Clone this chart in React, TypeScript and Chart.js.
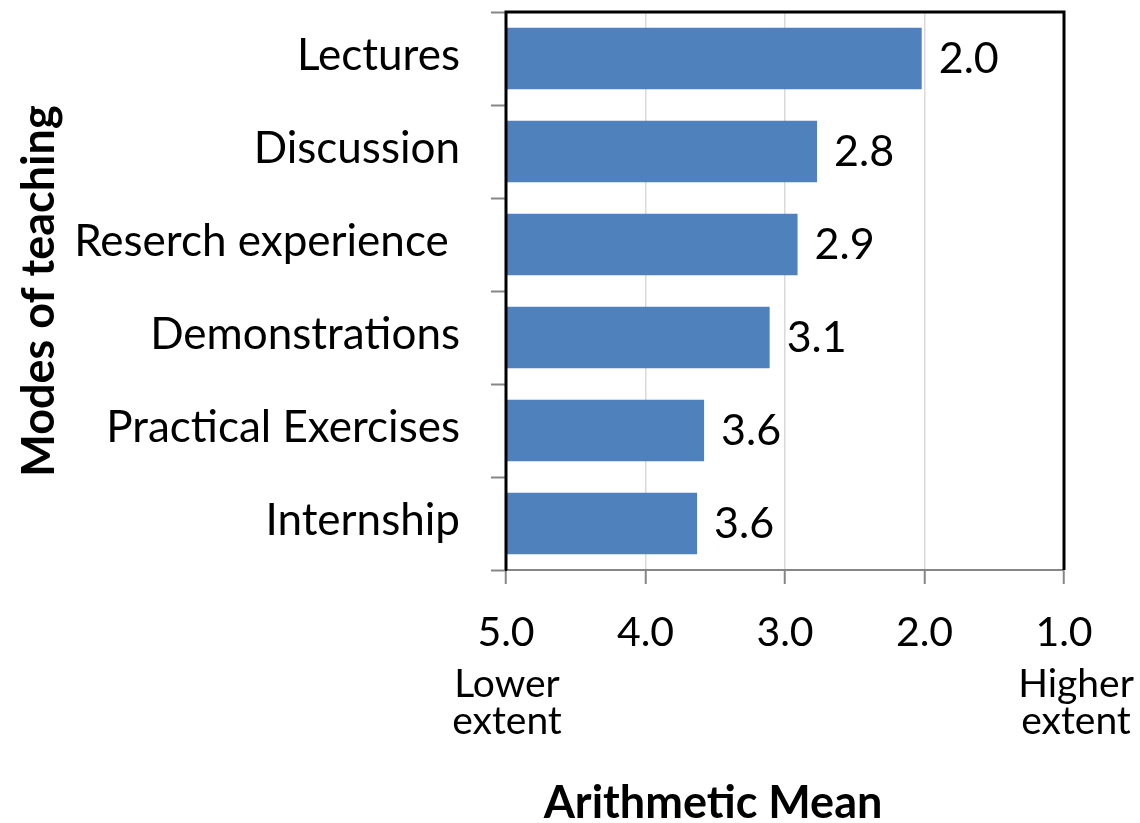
import React, { useEffect, useRef } from 'react';
import { Chart, registerables } from 'chart.js';

Chart.register(...registerables);

const categories = ['Lectures', 'Discussion', 'Reserch experience ', 'Demonstrations', 'Practical Exercises', 'Internship'];
const means = [2.02, 2.77, 2.91, 3.11, 3.58, 3.63];
const xTickValues = [5, 4, 3, 2, 1];
const extentValues = [5, 1];
const extentTexts = [['Lower', 'extent'], ['Higher', 'extent']];
const xTitle = 'Arithmetic Mean';
const yTitle = 'Modes of teaching';

const FONT = 'Lato, "Open Sans", sans-serif';

const labelPlugin = {
  id: 'valueLabels',
  afterDatasetsDraw(chart: any) {
    const { ctx } = chart;
    const xScale = chart.scales.x;
    const meta = chart.getDatasetMeta(0);
    ctx.save();
    ctx.font = `43px ${FONT}`;
    ctx.fillStyle = '#000';
    ctx.textAlign = 'left';
    ctx.textBaseline = 'middle';
    meta.data.forEach((el: any, i: number) => {
      const x = xScale.getPixelForValue(means[i]);
      ctx.fillText(means[i].toFixed(1), x + 17, el.y + 1);
    });
    ctx.restore();
  },
  afterDraw(chart: any) {
    const { ctx, chartArea } = chart;
    const { left, right, top, bottom } = chartArea;
    ctx.save();
    ctx.strokeStyle = '#000';
    ctx.lineWidth = 3;
    ctx.beginPath();
    ctx.moveTo(left, bottom);
    ctx.lineTo(left, top);
    ctx.lineTo(right, top);
    ctx.lineTo(right, bottom);
    ctx.stroke();
    const xScale = chart.scales.x;
    ctx.font = `39px ${FONT}`;
    ctx.fillStyle = '#000';
    ctx.textAlign = 'center';
    ctx.textBaseline = 'middle';
    extentValues.forEach((v, i) => {
      const x = xScale.getPixelForValue(v) + (i === 1 ? 12 : 1);
      extentTexts[i].forEach((t, j) => {
        ctx.fillText(t, x, 684 + j * 37);
      });
    });
    // x-axis title, placed left of the plot centre as in the reference
    ctx.font = `bold 45px ${FONT}`;
    ctx.fillText(xTitle, (left + right) / 2 - 72, 803);
    ctx.restore();
  },
};

export default function App() {
  const ref = useRef<HTMLCanvasElement>(null);
  useEffect(() => {
    if (!ref.current) return;
    const chart = new Chart(ref.current, {
      type: 'bar',
      data: {
        labels: categories,
        datasets: [
          {
            data: means.map((m) => [5, m]) as any,
            backgroundColor: '#4F81BD',
            borderWidth: 0,
            barPercentage: 0.66,
            categoryPercentage: 1,
          },
        ],
      },
      options: {
        indexAxis: 'y',
        animation: false,
        responsive: true,
        maintainAspectRatio: false,
        layout: { padding: { top: 12, right: 76, left: 0, bottom: 0 } },
        plugins: { legend: { display: false }, tooltip: { enabled: false } },
        scales: {
          x: {
            type: 'linear',
            reverse: true,
            min: 1,
            max: 5,
            afterBuildTicks: (scale: any) => {
              scale.ticks = xTickValues.map((v) => ({ value: v }));
            },
            afterFit: (scale: any) => {
              scale.height = 253;
              scale.paddingLeft = 0;
              scale.paddingRight = 0;
            },
            ticks: {
              callback: (v: any) => Number(v).toFixed(1),
              font: { family: FONT, size: 41 },
              color: '#000',
              padding: 24,
              maxRotation: 0,
            },
            grid: {
              color: '#d9d9d9',
              lineWidth: 1.5,
              tickColor: '#868686',
              tickLength: 14,
              tickWidth: 2,
            },
            border: { display: true, color: '#868686', width: 2 },
            title: { display: false },
          },
          y: {
            afterFit: (scale: any) => {
              scale.width = 506;
              scale.paddingTop = 0;
              scale.paddingBottom = 0;
            },
            ticks: {
              font: { family: FONT, size: 44 },
              color: '#000',
              padding: 31,
              labelOffset: -3,
            },
            grid: {
              drawOnChartArea: false,
              offset: true,
              tickLength: 15,
              tickColor: '#868686',
              tickWidth: 2,
            },
            border: { display: true, color: '#000', width: 2 },
            title: {
              display: true,
              text: yTitle,
              font: { family: FONT, size: 45, weight: 'bold', lineHeight: 1.2 },
              color: '#000',
              padding: { top: 12, bottom: 0 },
            },
          },
        },
      },
      plugins: [labelPlugin],
    });
    return () => chart.destroy();
  }, []);
  return (
    <div style={{ position: 'absolute', left: 0, top: 0, width: 1140, height: 823, background: '#fff' }}>
      <canvas ref={ref} />
    </div>
  );
}
